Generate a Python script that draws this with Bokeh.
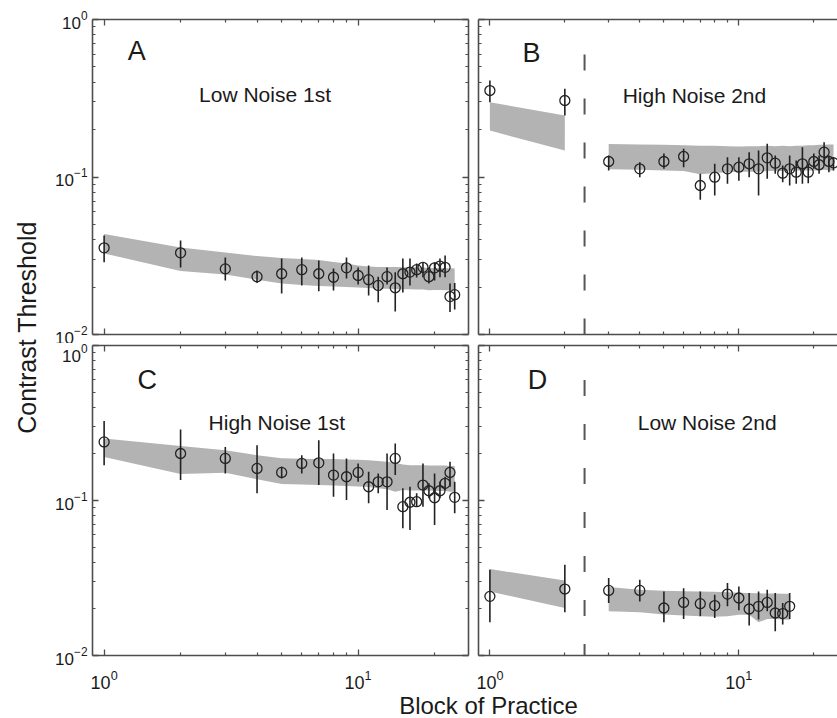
from bokeh.plotting import figure
from bokeh.models import Range1d, FixedTicker, LogAxis, Label, ColumnDataSource
from bokeh.layouts import row, column
from bokeh.embed import file_html
from bokeh.resources import INLINE

FONT = "Liberation Sans"

# ---------------- data ----------------
# Panel A: Low Noise 1st
a_block = list(range(1, 25))
a_thr = [0.0355, 0.0330, 0.0261, 0.0233, 0.0243, 0.0258, 0.0243, 0.0231, 0.0265, 0.0237,
         0.0223, 0.0205, 0.0233, 0.0198, 0.0243, 0.0249, 0.0258, 0.0267, 0.0233, 0.0265,
         0.0272, 0.0267, 0.0174, 0.0179]
a_hi = [0.0425, 0.0395, 0.0308, 0.0255, 0.0304, 0.0308, 0.0295, 0.0262, 0.0308, 0.0266,
        0.0274, 0.0233, 0.0266, 0.0248, 0.0304, 0.0304, 0.0282, 0.0288, 0.0266, 0.0288,
        0.0304, 0.0317, 0.0211, 0.0212]
a_lo = [0.0288, 0.0266, 0.0220, 0.0212, 0.0182, 0.0205, 0.0188, 0.0190, 0.0227, 0.0208,
        0.0177, 0.0160, 0.0208, 0.0140, 0.0185, 0.0205, 0.0230, 0.0231, 0.0211, 0.0220,
        0.0231, 0.0231, 0.0139, 0.0144]
a_band_hi = [0.0435, 0.0357, 0.0332, 0.0315, 0.0306, 0.0302, 0.0297, 0.0289, 0.0282, 0.0274,
             0.0270, 0.0268, 0.0268, 0.0268, 0.0267, 0.0267, 0.0267, 0.0266, 0.0264, 0.0264,
             0.0264, 0.0263, 0.0263, 0.0262]
a_band_lo = [0.0327, 0.0253, 0.0240, 0.0223, 0.0211, 0.0206, 0.0203, 0.0202, 0.0200, 0.0199,
             0.0197, 0.0195, 0.0195, 0.0194, 0.0194, 0.0194, 0.0193, 0.0193, 0.0191, 0.0192,
             0.0192, 0.0191, 0.0191, 0.0192]

# Panel B: High Noise 2nd (blocks 1-2 before the switch, 3-24 after)
b_pre_block = [1, 2]
b_pre_thr = [0.354, 0.306]
b_pre_hi = [0.410, 0.363]
b_pre_lo = [0.2985, 0.2457]
b_pre_band_hi = [0.2985, 0.2457]
b_pre_band_lo = [0.197, 0.1473]
b_block = list(range(3, 25))
b_thr = [0.1254, 0.1127, 0.1254, 0.135, 0.0883, 0.0997, 0.1127, 0.1154, 0.1213, 0.1127,
         0.1324, 0.1224, 0.1057, 0.1127, 0.1073, 0.1213, 0.1073, 0.1254, 0.1196, 0.1437,
         0.1254, 0.123]
b_hi = [0.1369, 0.1241, 0.141, 0.151, 0.1048, 0.1213, 0.1334, 0.1334, 0.1435, 0.1473,
        0.1625, 0.1369, 0.1183, 0.1369, 0.1274, 0.1546, 0.1213, 0.141, 0.1369, 0.1663,
        0.1369, 0.1334]
b_lo = [0.110, 0.0996, 0.1127, 0.1155, 0.0716, 0.0763, 0.0906, 0.0947, 0.0996, 0.0763,
        0.0974, 0.1048, 0.0927, 0.0883, 0.0906, 0.0906, 0.0913, 0.1127, 0.1048, 0.1241,
        0.1073, 0.110]
b_band_hi = [0.162, 0.161, 0.160, 0.159, 0.158, 0.158, 0.157, 0.156, 0.157, 0.157, 0.158,
             0.157, 0.158, 0.157, 0.158, 0.158, 0.159, 0.159, 0.160, 0.160, 0.161, 0.161]
b_band_lo = [0.112, 0.111, 0.110, 0.109, 0.104, 0.106, 0.107, 0.108, 0.108, 0.108, 0.109,
             0.109, 0.109, 0.110, 0.110, 0.110, 0.110, 0.110, 0.110, 0.111, 0.110, 0.110]

# Panel C: High Noise 1st
c_block = list(range(1, 25))
c_thr = [0.2388, 0.201, 0.1868, 0.161, 0.1518, 0.1735, 0.175, 0.1459, 0.1423, 0.1518,
         0.1227, 0.132, 0.132, 0.1868, 0.0912, 0.0974, 0.0982, 0.1258, 0.1156, 0.1042,
         0.1156, 0.129, 0.1518, 0.1048]
c_hi = [0.326, 0.287, 0.2218, 0.2275, 0.165, 0.1962, 0.245, 0.201, 0.1868, 0.1735,
        0.1532, 0.1496, 0.201, 0.2333, 0.1198, 0.1227, 0.1112, 0.1735, 0.129, 0.1496,
        0.132, 0.1423, 0.1776, 0.132]
c_lo = [0.169, 0.1354, 0.1496, 0.1112, 0.1389, 0.1496, 0.1258, 0.1058, 0.1007, 0.132,
        0.0959, 0.1112, 0.0869, 0.1459, 0.0662, 0.0646, 0.0912, 0.0912, 0.1033, 0.0696,
        0.1033, 0.1168, 0.1227, 0.0827]
c_band_hi = [0.251, 0.225, 0.211, 0.196, 0.187, 0.186, 0.185, 0.185, 0.184, 0.183, 0.182, 0.180,
             0.178, 0.175, 0.171, 0.169, 0.169, 0.169, 0.168, 0.168, 0.168, 0.168, 0.167, 0.167]
c_band_lo = [0.191, 0.148, 0.151, 0.137, 0.128, 0.127, 0.126, 0.125, 0.124, 0.123, 0.122, 0.120,
             0.118, 0.114, 0.117, 0.116, 0.116, 0.116, 0.116, 0.115, 0.115, 0.115, 0.114, 0.114]

# Panel D: Low Noise 2nd (blocks 1-2 before the switch, 3-16 after)
d_pre_block = [1, 2]
d_pre_thr = [0.02407, 0.02684]
d_pre_hi = [0.0357, 0.03847]
d_pre_lo = [0.01638, 0.0190]
d_pre_band_hi = [0.0361, 0.0305]
d_pre_band_lo = [0.0259, 0.02025]
d_block = list(range(3, 17))
d_thr = [0.0263, 0.0263, 0.02025, 0.0220, 0.0216, 0.0210, 0.0249, 0.0235, 0.01995, 0.02075,
         0.0220, 0.0188, 0.01863, 0.02075]
d_hi = [0.0316, 0.0308, 0.0259, 0.0272, 0.0259, 0.0247, 0.02935, 0.0279, 0.0253, 0.0259,
        0.02657, 0.0253, 0.0218, 0.0253]
d_lo = [0.0218, 0.0223, 0.01638, 0.0172, 0.0179, 0.01748, 0.02075, 0.01955, 0.0156, 0.01704,
        0.01927, 0.01433, 0.01583, 0.0172]
d_band_hi = [0.0277, 0.0266, 0.0262, 0.0260, 0.0259, 0.0258, 0.0256, 0.0254, 0.0253, 0.0252,
             0.0251, 0.0251, 0.0250, 0.0250]
d_band_lo = [0.0193, 0.0190, 0.0184, 0.0181, 0.0179, 0.0178, 0.0179, 0.0183, 0.0183, 0.0164,
             0.0172, 0.0172, 0.0171, 0.0170]

switch_block = 2.4
switch_top = 0.6

x_major = [1, 10]
x_minor = [2, 3, 4, 5, 6, 7, 8, 9, 20]
y_major = [0.01, 0.1, 1.0]
y_minor = [0.02, 0.03, 0.04, 0.05, 0.06, 0.07, 0.08, 0.09,
           0.2, 0.3, 0.4, 0.5, 0.6, 0.7, 0.8, 0.9]

AX = "#4d4d4d"
BAND = "#b3b3b3"
MARK = "#222222"


def style_axis(ax, major, minor, show, size, standoff=5):
    ax.ticker = FixedTicker(ticks=major, minor_ticks=minor)
    ax.axis_line_color = AX
    ax.axis_line_width = 1.6
    ax.major_tick_line_color = AX
    ax.minor_tick_line_color = AX
    ax.major_tick_line_width = 1.3
    ax.minor_tick_line_width = 1.2
    ax.major_tick_in = 6
    ax.major_tick_out = 0
    ax.minor_tick_in = 3
    ax.minor_tick_out = 0
    if show:
        ax.major_label_text_font = FONT
        ax.major_label_text_font_size = size
        ax.major_label_text_color = "#1a1a1a"
        ax.major_label_standoff = standoff
    else:
        ax.major_label_text_font_size = "1px"
        ax.major_label_text_alpha = 0.0
        ax.major_label_standoff = 0


def panel(w, h, xmax, borders, show_x, show_y, right):
    p = figure(width=w, height=h, x_axis_type="log", y_axis_type="log",
               x_range=Range1d(0.9, xmax), y_range=Range1d(0.01, 1.0),
               toolbar_location=None, output_backend="svg",
               min_border_left=borders[0], min_border_right=borders[1],
               min_border_top=borders[2], min_border_bottom=borders[3])
    p.grid.visible = False
    p.outline_line_color = None
    p.background_fill_color = "white"
    p.border_fill_color = "white"
    style_axis(p.xaxis[0], x_major, x_minor, show_x, "18px", 14)
    style_axis(p.yaxis[0], y_major, y_minor, show_y, "17px", 5)
    top = LogAxis()
    style_axis(top, x_major, x_minor, False, "1px")
    p.add_layout(top, "above")
    if right:
        ra = LogAxis()
        style_axis(ra, y_major, y_minor, False, "1px")
        p.add_layout(ra, "right")
    return p


def add_series(p, blocks, thr, lo, hi, band_lo, band_hi):
    src = ColumnDataSource(dict(x=blocks, y=thr, lo=lo, hi=hi, blo=band_lo, bhi=band_hi))
    p.varea(x="x", y1="blo", y2="bhi", source=src, fill_color=BAND, fill_alpha=1.0)
    p.segment(x0="x", y0="lo", x1="x", y1="hi", source=src, line_color=MARK, line_width=1.6)
    p.scatter(x="x", y="y", source=src, marker="circle", size=10, fill_color=None,
              line_color=MARK, line_width=1.3)


def add_text(p, x, y, text, size):
    p.add_layout(Label(x=x, y=y, text=text, text_font=FONT, text_font_size=size,
                       text_align="center", text_baseline="alphabetic", text_color="#1a1a1a"))


def add_switch(p):
    p.segment(x0=[switch_block], y0=[switch_top], x1=[switch_block], y1=[0.01],
              line_color="#555555", line_width=2, line_dash="16 28")


YLW = 42
LW, RW = 431, 364
TH, BH, XH = 343, 348, 27
XL = 27.2
XR = 24.9

pa = panel(LW, TH, XL, (50, 5, 19, 9), False, True, True)
add_series(pa, a_block, a_thr, a_lo, a_hi, a_band_lo, a_band_hi)
add_text(pa, 1.345, 0.629, "A", "27px")
add_text(pa, 4.30, 0.3326, "Low Noise 1st", "21px")

pb = panel(RW, TH, XR, (5, 0, 19, 9), False, False, False)
add_switch(pb)
add_series(pb, b_pre_block, b_pre_thr, b_pre_lo, b_pre_hi, b_pre_band_lo, b_pre_band_hi)
add_series(pb, b_block, b_thr, b_lo, b_hi, b_band_lo, b_band_hi)
add_text(pb, 1.469, 0.617, "B", "27px")
add_text(pb, 6.63, 0.329, "High Noise 2nd", "21px")

pc = panel(LW, BH, XL, (50, 5, 2, 35), True, True, True)
add_series(pc, c_block, c_thr, c_lo, c_hi, c_band_lo, c_band_hi)
add_text(pc, 1.477, 0.6017, "C", "27px")
add_text(pc, 4.786, 0.3197, "High Noise 1st", "21px")

pd = panel(RW, BH, XR, (5, 0, 2, 35), True, False, False)
add_switch(pd)
add_series(pd, d_pre_block, d_pre_thr, d_pre_lo, d_pre_hi, d_pre_band_lo, d_pre_band_hi)
add_series(pd, d_block, d_thr, d_lo, d_hi, d_band_lo, d_band_hi)
add_text(pd, 1.553, 0.6017, "D", "27px")
add_text(pd, 7.46, 0.3197, "Low Noise 2nd", "21px")

TOTAL_H = TH + BH + XH

# y-axis title: the left axis of a narrow figure, centred on the two rows of panels
ylab = figure(width=YLW, height=TOTAL_H, x_range=Range1d(0, 1), y_range=Range1d(0, 1),
              toolbar_location=None, output_backend="svg",
              x_axis_location=None, y_axis_location="left",
              min_border_left=40, min_border_right=0,
              min_border_top=0, min_border_bottom=TOTAL_H - 654)
ylab.grid.visible = False
ylab.outline_line_color = None
ylab.background_fill_color = "white"
ylab.border_fill_color = "white"
yax = ylab.yaxis[0]
yax.axis_label = "Contrast Threshold"
yax.axis_label_text_font = FONT
yax.axis_label_text_font_size = "25px"
yax.axis_label_text_font_style = "normal"
yax.axis_label_text_color = "#1a1a1a"
yax.axis_label_standoff = 0
yax.axis_line_color = None
yax.major_tick_line_color = None
yax.minor_tick_line_color = None
yax.major_tick_out = 0
yax.minor_tick_out = 0
yax.major_label_text_font_size = "1px"
yax.major_label_text_alpha = 0.0
yax.major_label_standoff = 0


def text_fig(w, h):
    f = figure(width=w, height=h, x_range=Range1d(0, w), y_range=Range1d(0, h),
               toolbar_location=None, output_backend="svg",
               x_axis_location=None, y_axis_location=None,
               min_border=0, min_border_left=0, min_border_right=0,
               min_border_top=0, min_border_bottom=0)
    f.grid.visible = False
    f.outline_line_color = None
    f.background_fill_color = "white"
    f.border_fill_color = "white"
    return f


xlab = text_fig(LW + RW, XH)
xlab.add_layout(Label(x=488 - YLW, y=XH / 2, text="Block of Practice",
                      text_font=FONT, text_font_size="24px", text_align="center",
                      text_baseline="middle", text_color="#1a1a1a"))

layout = row(ylab, column(row(pa, pb), row(pc, pd), xlab))

open("out.html", "w").write(file_html(layout, INLINE))
